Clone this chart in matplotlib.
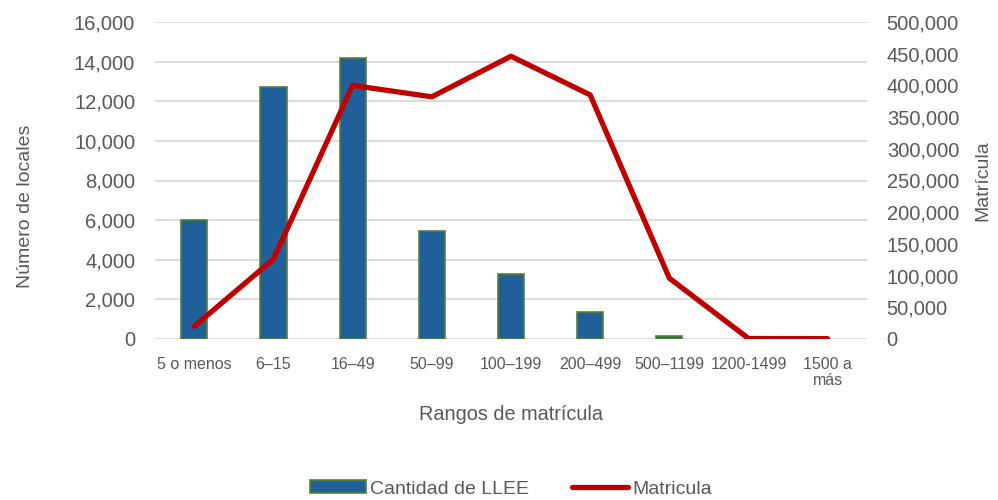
import matplotlib.pyplot as plt
import numpy as np
from matplotlib.ticker import FuncFormatter

plt.rcParams['font.family'] = ['Liberation Sans', 'DejaVu Sans']

categories = ['5 o menos', '6–15', '16–49', '50–99', '100–199', '200–499',
              '500–1199', '1200-1499', '1500 a\nmás']
locales = [6000, 12700, 14200, 5450, 3280, 1360, 150, 0, 0]
matricula = [20000, 126000, 400000, 382000, 446000, 385000, 96000, 800, 500]

text_color = '#595959'
fig = plt.figure(figsize=(9.98, 5.0), dpi=100)
ax = fig.add_axes([0.155, 0.322, 0.714, 0.634])
ax2 = ax.twinx()

x = np.arange(len(categories))
bars = ax.bar(x, locales, width=0.33, color='#215F9A', edgecolor='#548235',
              linewidth=1.2, label='Cantidad de LLEE', zorder=3)
# empty categories draw nothing
for b, v in zip(bars, locales):
    if v == 0:
        b.set_visible(False)
line, = ax2.plot(x, matricula, color='#C00000', linewidth=3.8,
                 solid_capstyle='round', label='Matricula', zorder=4)

ax.set_xlim(-0.5, len(categories) - 0.5)
ax.set_ylim(0, 16000)
ax.set_yticks(np.arange(0, 16001, 2000))
ax2.set_ylim(0, 500000)
ax2.set_yticks(np.arange(0, 500001, 50000))

fmt = FuncFormatter(lambda v, p: f'{int(v):,}')
ax.yaxis.set_major_formatter(fmt)
ax2.yaxis.set_major_formatter(fmt)

ax.set_xticks(x)
ax.set_xticklabels(categories, fontsize=11.5, color=text_color, linespacing=1.1,
                   verticalalignment='top')
ax.tick_params(axis='y', labelsize=14.5, colors=text_color, length=0, pad=14)
ax.tick_params(axis='x', length=0, pad=13)
ax2.tick_params(axis='y', labelsize=14.5, colors=text_color, length=0, pad=14)

ax.grid(axis='y', color='#D9D9D9', linewidth=1.3, zorder=0)
ax.set_axisbelow(True)
for a in (ax, ax2):
    for s in a.spines.values():
        s.set_visible(False)

ax.set_ylabel('Número de locales', fontsize=14, color=text_color)
ax.yaxis.set_label_coords(-0.170, 0.42)
ax2.set_ylabel('Matrícula', fontsize=14, color=text_color)
ax2.yaxis.set_label_coords(1.15, 0.5)
ax.set_xlabel('Rangos de matrícula', fontsize=14.3, color=text_color, labelpad=12)

fig.legend(handles=[bars, line], labels=['Cantidad de LLEE', 'Matricula'],
           loc='center', bbox_to_anchor=(0.512, 0.022), ncol=2, frameon=False,
           fontsize=14, labelcolor=text_color, handlelength=2.9,
           handletextpad=0.2, columnspacing=2.2, handleheight=0.6)

fig.savefig('out.png', dpi=100)
